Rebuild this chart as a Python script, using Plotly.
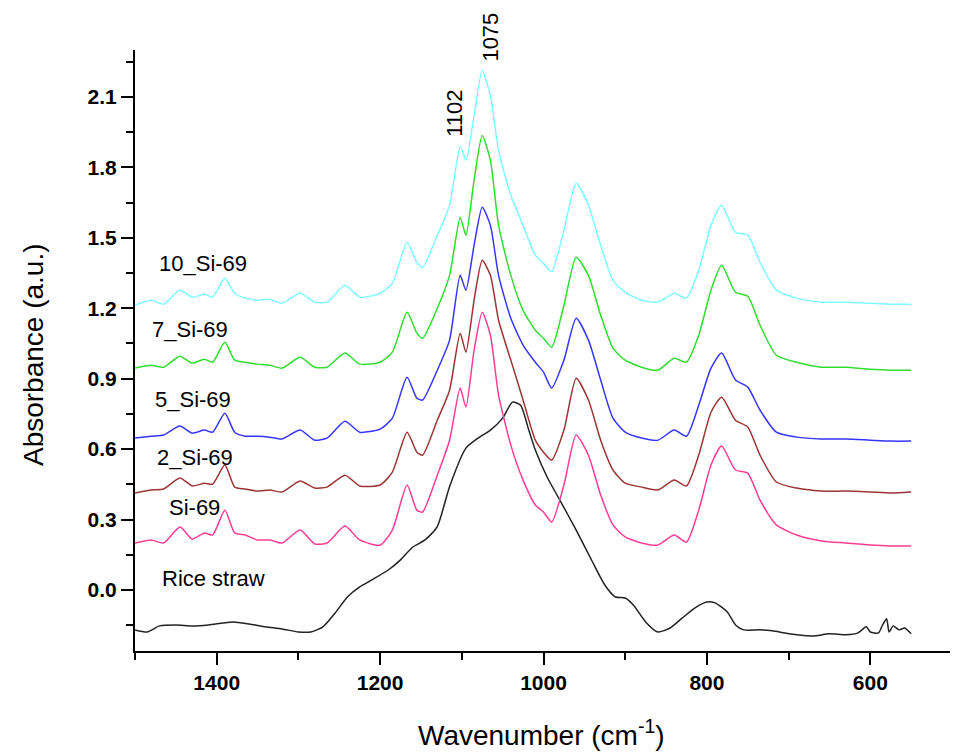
import plotly.graph_objects as go

# wavenumber grid (cm-1) shared by the Si-69 modified samples
wavenumber = [1500, 1480, 1465, 1445, 1430, 1415, 1405, 1390, 1378, 1365,
              1350, 1335, 1320, 1298, 1280, 1265, 1243, 1225, 1200, 1185,
              1167, 1155, 1148, 1130, 1115, 1102, 1095, 1085, 1075, 1065,
              1055, 1040, 1025, 1010, 1000, 990, 975, 960, 945, 930,
              915, 900, 880, 860, 840, 825, 810, 795, 782, 765,
              750, 735, 715, 690, 660, 630, 600, 575, 550]

si69_10 = [1.213, 1.234, 1.217, 1.277, 1.247, 1.260, 1.247, 1.328, 1.264, 1.243,
           1.234, 1.238, 1.221, 1.264, 1.226, 1.226, 1.298, 1.247, 1.264, 1.306,
           1.481, 1.396, 1.374, 1.511, 1.638, 1.889, 1.830, 2.021, 2.213, 2.106,
           1.872, 1.681, 1.553, 1.426, 1.391, 1.357, 1.532, 1.732, 1.638, 1.468,
           1.319, 1.268, 1.234, 1.226, 1.264, 1.243, 1.362, 1.553, 1.638, 1.523,
           1.511, 1.396, 1.277, 1.243, 1.226, 1.226, 1.221, 1.217, 1.217]

si69_7 = [0.945, 0.957, 0.949, 0.996, 0.966, 0.983, 0.970, 1.055, 0.979, 0.970,
          0.962, 0.957, 0.945, 0.991, 0.949, 0.949, 1.009, 0.962, 0.970, 1.013,
          1.183, 1.094, 1.072, 1.200, 1.340, 1.587, 1.511, 1.745, 1.936, 1.830,
          1.553, 1.340, 1.191, 1.106, 1.072, 1.034, 1.213, 1.417, 1.340, 1.170,
          1.030, 0.979, 0.949, 0.936, 0.987, 0.970, 1.085, 1.277, 1.383, 1.268,
          1.251, 1.128, 1.000, 0.970, 0.949, 0.949, 0.940, 0.936, 0.936]

si69_5 = [0.647, 0.655, 0.660, 0.698, 0.668, 0.681, 0.672, 0.753, 0.672, 0.655,
          0.655, 0.651, 0.643, 0.681, 0.638, 0.647, 0.719, 0.672, 0.685, 0.732,
          0.906, 0.817, 0.809, 0.936, 1.064, 1.340, 1.277, 1.468, 1.630, 1.553,
          1.340, 1.157, 1.043, 0.970, 0.928, 0.860, 0.979, 1.157, 1.064, 0.894,
          0.732, 0.672, 0.647, 0.638, 0.681, 0.655, 0.787, 0.945, 1.009, 0.894,
          0.864, 0.766, 0.672, 0.651, 0.643, 0.643, 0.638, 0.634, 0.634]

si69_2 = [0.413, 0.426, 0.430, 0.477, 0.443, 0.455, 0.451, 0.532, 0.438, 0.430,
          0.421, 0.426, 0.417, 0.464, 0.434, 0.438, 0.489, 0.443, 0.447, 0.502,
          0.672, 0.587, 0.574, 0.723, 0.851, 1.094, 1.013, 1.234, 1.404, 1.340,
          1.149, 0.979, 0.809, 0.638, 0.587, 0.553, 0.681, 0.902, 0.809, 0.638,
          0.511, 0.455, 0.438, 0.426, 0.468, 0.443, 0.574, 0.757, 0.821, 0.723,
          0.694, 0.574, 0.460, 0.434, 0.421, 0.421, 0.417, 0.413, 0.417]

si69 = [0.200, 0.213, 0.200, 0.268, 0.217, 0.243, 0.234, 0.340, 0.243, 0.234,
        0.213, 0.213, 0.200, 0.255, 0.196, 0.200, 0.272, 0.213, 0.191, 0.255,
        0.447, 0.340, 0.332, 0.489, 0.638, 0.860, 0.779, 1.021, 1.183, 1.085,
        0.830, 0.617, 0.468, 0.362, 0.332, 0.289, 0.447, 0.660, 0.574, 0.404,
        0.277, 0.226, 0.200, 0.191, 0.234, 0.204, 0.340, 0.532, 0.613, 0.511,
        0.498, 0.383, 0.277, 0.234, 0.209, 0.200, 0.191, 0.187, 0.187]

# raw rice straw spectrum has its own points
wavenumber_rice = [1500, 1485, 1470, 1450, 1430, 1410, 1380, 1360, 1340, 1320,
                   1300, 1285, 1270, 1255, 1240, 1225, 1210, 1190, 1175, 1160,
                   1145, 1130, 1115, 1095, 1080, 1065, 1050, 1038, 1028, 1018,
                   1010, 995, 980, 960, 940, 925, 912, 900, 890, 875,
                   860, 845, 830, 815, 800, 790, 775, 765, 755, 735,
                   720, 705, 690, 670, 650, 630, 615, 605, 600, 590,
                   585, 580, 577, 572, 565, 558, 550]
rice_straw = [-0.170, -0.179, -0.153, -0.149, -0.153, -0.149, -0.136, -0.145, -0.157, -0.166,
              -0.179, -0.179, -0.157, -0.098, -0.030, 0.013, 0.043, 0.085, 0.128, 0.183,
              0.213, 0.270, 0.440, 0.604, 0.647, 0.681, 0.732, 0.800, 0.787, 0.681,
              0.596, 0.477, 0.383, 0.255, 0.119, 0.021, -0.030, -0.034, -0.064, -0.136,
              -0.179, -0.162, -0.119, -0.077, -0.051, -0.055, -0.094, -0.149, -0.170, -0.170,
              -0.174, -0.183, -0.191, -0.196, -0.187, -0.191, -0.183, -0.157, -0.179, -0.183,
              -0.149, -0.123, -0.179, -0.153, -0.170, -0.162, -0.187]

series = [
    ("Rice straw", wavenumber_rice, rice_straw, "#222222"),
    ("Si-69", wavenumber, si69, "#ff3d96"),
    ("2_Si-69", wavenumber, si69_2, "#9b3535"),
    ("5_Si-69", wavenumber, si69_5, "#3535ff"),
    ("7_Si-69", wavenumber, si69_7, "#30dd30"),
    ("10_Si-69", wavenumber, si69_10, "#80ffff"),
]

# label positions (wavenumber, absorbance) for the sample names
label_x = [1469, 1461, 1476, 1478, 1482, 1473]
label_y = [0.047, 0.353, 0.566, 0.813, 1.111, 1.391]

FONT = "Liberation Sans, Arial"

fig = go.Figure()
for name, xs, ys, color in series:
    fig.add_trace(go.Scatter(x=xs, y=ys, mode="lines", name=name,
                             line=dict(color=color, width=1.5, shape="spline", smoothing=0.6)))

for (name, _, _, _), lx, ly in zip(series, label_x, label_y):
    fig.add_annotation(x=lx, y=ly, text=name, showarrow=False, xanchor="left",
                       font=dict(family=FONT, size=22, color="black"))

# peak markers (1075 sits above the plot top, so it uses paper y)
fig.add_annotation(x=1109, y=2.03, text="1102", showarrow=False, textangle=-90,
                   font=dict(family=FONT, size=22, color="black"))
fig.add_annotation(x=1066, y=1.0216, yref="paper", yanchor="middle", text="1075",
                   showarrow=False, textangle=-90,
                   font=dict(family=FONT, size=22, color="black"))

# axis titles
fig.add_annotation(x=-0.1248, y=0.4925, xref="paper", yref="paper",
                   xanchor="center", yanchor="middle", text="Absorbance (a.u.)",
                   showarrow=False, textangle=-90,
                   font=dict(family=FONT, size=28, color="black"))
fig.add_annotation(x=0.498, y=-0.1364, xref="paper", yref="paper",
                   xanchor="center", yanchor="middle",
                   text="Wavenumber (cm<sup>-1</sup>)", showarrow=False,
                   font=dict(family=FONT, size=28, color="black"))

axis_style = dict(showline=True, linewidth=2, linecolor="black", mirror=False,
                  showgrid=False, zeroline=False, ticks="outside", tickwidth=2,
                  ticklen=12, tickcolor="black",
                  tickfont=dict(family=FONT, size=21, color="black", weight="bold"))

fig.update_xaxes(range=[1500, 500], tick0=0, dtick=200,
                 minor=dict(dtick=100, ticklen=7, tickwidth=2, tickcolor="black", ticks="outside"),
                 **axis_style)
fig.update_yaxes(range=[-0.26, 2.3], tick0=0, dtick=0.3, tickformat=".1f",
                 minor=dict(dtick=0.15, ticklen=7, tickwidth=2, tickcolor="black", ticks="outside"),
                 **axis_style)

# page body adds 8px at top/left, so the figure is trimmed by that much
fig.update_layout(width=950, height=744, showlegend=False,
                  plot_bgcolor="white", paper_bgcolor="white",
                  margin=dict(l=127, r=6, t=42, b=101))

fig.write_html("out.html")
